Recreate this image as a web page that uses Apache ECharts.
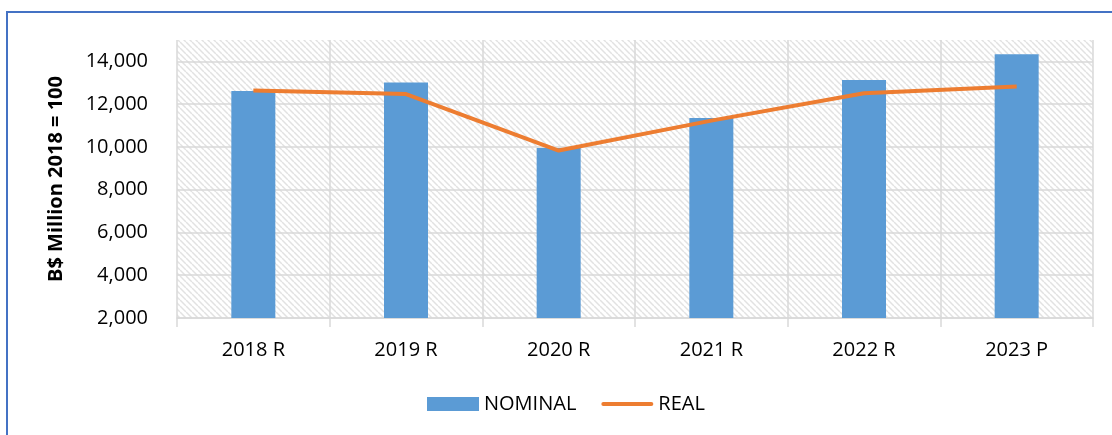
<!DOCTYPE html>
<html>
<head>
<meta charset="utf-8">
<script src="https://cdn.jsdelivr.net/npm/echarts@6/dist/echarts.min.js"></script>
<style>
  html, body { margin: 0; padding: 0; background: #fff; }
  #frame {
    position: absolute; left: 6px; top: 11px; width: 1200px; height: 500px;
    border-left: 2px solid #4472C4; border-top: 2px solid #4472C4;
  }
  #chart { position: absolute; left: 0; top: 0; width: 1112px; height: 435px; }
</style>
</head>
<body>
<div id="frame"></div>
<div id="chart"></div>
<script>
// chart data
const years = ['2018 R', '2019 R', '2020 R', '2021 R', '2022 R', '2023 P']
const nominal = [12620, 13010, 9950, 11350, 13130, 14330]
const real = [12640, 12470, 9830, 11230, 12510, 12820]

// light downward diagonal hatch for the plot area
function hatch () {
  let c = document.createElement('canvas')
  c.width = 6
  c.height = 6
  let ctx = c.getContext('2d')
  ctx.fillStyle = '#ffffff'
  ctx.fillRect(0, 0, 6, 6)
  ctx.strokeStyle = '#e2e2e2'
  ctx.lineWidth = 1.5
  for (let k = -6; k <= 6; k += 6) {
    ctx.beginPath()
    ctx.moveTo(0, k)
    ctx.lineTo(6, 6 + k)
    ctx.stroke()
  }
  return c
}

let chart = echarts.init(document.getElementById('chart'))
let font = 'Open Sans'

let option = {
  animation: false,
  textStyle: { fontFamily: font },
  grid: {
    left: 177,
    right: 19,
    top: 40,
    bottom: 117,
    show: true,
    borderWidth: 0,
    backgroundColor: { image: hatch(), repeat: 'repeat' }
  },
  legend: {
    bottom: 16,
    left: 422,
    itemWidth: 52,
    itemHeight: 14,
    itemGap: 25,
    textStyle: { fontSize: 20, lineHeight: 20, color: '#000', fontFamily: font },
    data: [
      { name: 'NOMINAL', icon: 'rect' },
      { name: 'REAL', icon: 'path://M2,0 L50,0 A2,2 0 0 1 50,4 L2,4 A2,2 0 0 1 2,0 Z' }
    ]
  },
  xAxis: {
    type: 'category',
    data: years,
    axisLine: { lineStyle: { color: '#d9d9d9', width: 1.5 } },
    axisTick: { show: true, length: 9, lineStyle: { color: '#d9d9d9', width: 1.5 } },
    axisLabel: { fontSize: 20, lineHeight: 20, color: '#000', margin: 22 },
    splitLine: { show: true, lineStyle: { color: '#d9d9d9', width: 1.5 } }
  },
  yAxis: {
    type: 'value',
    min: 2000,
    max: 15000,
    interval: 2000,
    name: 'B$ Million 2018 = 100',
    nameLocation: 'middle',
    nameGap: 111,
    nameTextStyle: { fontSize: 20, fontWeight: 'bold', color: '#000' },
    axisLine: { show: false },
    axisTick: { show: false },
    axisLabel: { fontSize: 20, color: '#000', margin: 29, showMaxLabel: false },
    splitLine: { show: true, showMaxLine: false, lineStyle: { color: '#d9d9d9', width: 1.5 } }
  },
  series: [
    {
      name: 'NOMINAL',
      type: 'bar',
      data: nominal,
      barWidth: 44,
      itemStyle: { color: '#5B9BD5' }
    },
    {
      name: 'REAL',
      type: 'line',
      data: real,
      symbol: 'none',
      lineStyle: { color: '#ED7D31', width: 4 },
      itemStyle: { color: '#ED7D31' }
    }
  ]
}

chart.setOption(option)
</script>
</body>
</html>
